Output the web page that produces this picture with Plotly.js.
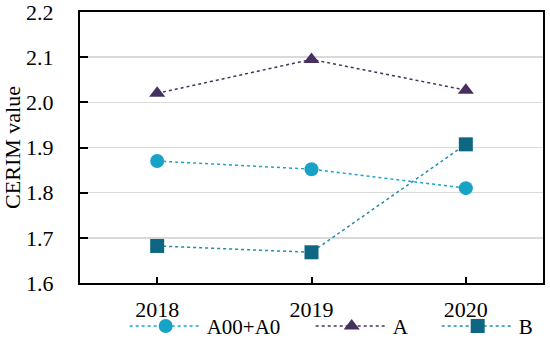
<!DOCTYPE html>
<html>
<head>
<meta charset="utf-8">
<script src="https://cdn.plot.ly/plotly-3.0.1.min.js"></script>
<style>html,body{margin:0;padding:0;background:#fff;}#chart{width:550px;height:339px;}</style>
</head>
<body>
<div id="chart"></div>
<script>
const years = ["2018", "2019", "2020"];
const seriesNames = ["A00+A0", "A", "B"];
const valuesA00A0 = [1.870, 1.852, 1.810];
const valuesA = [2.020, 2.095, 2.027];
const valuesB = [1.682, 1.668, 1.907];
const yTicks = [1.6, 1.7, 1.8, 1.9, 2.0, 2.1, 2.2];

const styles = [
  {color: "#17a3c5", symbol: "circle", lineColor: "#1aa6c8", lw: 99},
  {color: "#46305f", symbol: "triangle-up", lineColor: "#46305f", lw: 39},
  {color: "#0d6782", symbol: "square", lineColor: "#1c8db0", lw: 20}
];
const allValues = [valuesA00A0, valuesA, valuesB];

const traces = allValues.map((vals, i) => ({
  x: years,
  y: vals,
  name: seriesNames[i],
  type: "scatter",
  mode: "lines+markers",
  legendwidth: styles[i].lw,
  line: {color: styles[i].lineColor, width: 1.5, dash: "dot"},
  marker: {color: styles[i].color, symbol: styles[i].symbol, size: 14}
}));

const fam = "Liberation Serif";
const layout = {
  width: 550, height: 339,
  margin: {l: 80, r: 7, t: 12, b: 56, autoexpand: false},
  paper_bgcolor: "#fff",
  plot_bgcolor: "#fff",
  font: {family: fam, color: "#000", size: 22},
  showlegend: true,
  legend: {
    orientation: "h", x: 0.0965, xanchor: "left", y: -0.16, yanchor: "middle",
    font: {family: fam, size: 21, color: "#000"},
    itemwidth: 72, bgcolor: "rgba(0,0,0,0)"
  },
  xaxis: {
    type: "category", range: [-0.5, 2.5],
    showline: true, linecolor: "#000", linewidth: 2, mirror: true,
    ticks: "inside", ticklen: 6, tickwidth: 2, tickcolor: "#000",
    showgrid: false, tickfont: {family: fam, size: 22, color: "#000"},
    ticklabelstandoff: 6, ticklabeloverflow: "allow",
    fixedrange: true
  },
  yaxis: {
    range: [1.6, 2.2], tickvals: yTicks, ticktext: yTicks.map(v => v.toFixed(1)),
    showline: true, linecolor: "#000", linewidth: 2, mirror: true,
    ticks: "inside", ticklen: 8, tickwidth: 2, tickcolor: "#000",
    showgrid: true, gridcolor: "#d9d9d9", gridwidth: 1.5,
    zeroline: false,
    tickfont: {family: fam, size: 22, color: "#000"},
    ticklabelstandoff: 20, ticklabeloverflow: "allow",
    title: {text: "CERIM value", font: {family: fam, size: 22, color: "#000"}, standoff: 8},
    fixedrange: true
  }
};

Plotly.newPlot("chart", traces, layout, {displayModeBar: false, staticPlot: true});
</script>
</body>
</html>
